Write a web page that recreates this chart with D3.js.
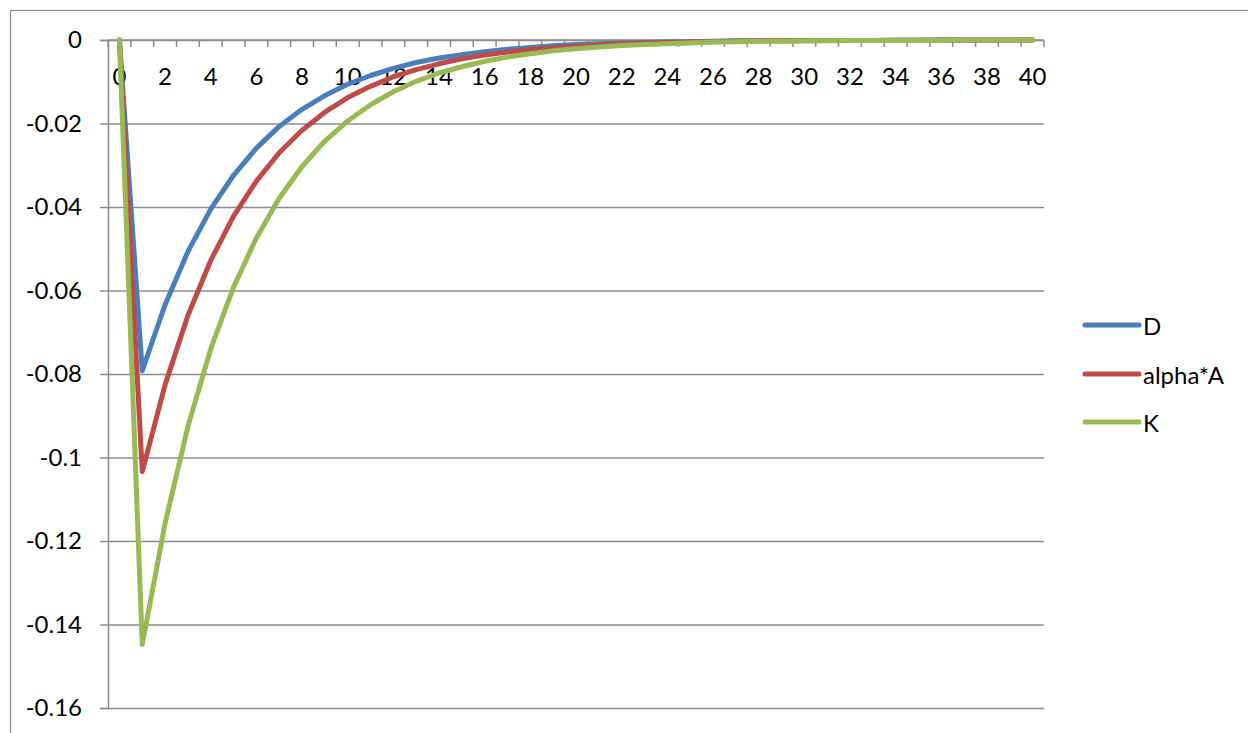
<!DOCTYPE html>
<html>
<head>
<meta charset="utf-8">
<script src="https://cdn.jsdelivr.net/npm/d3@7"></script>
<style>
  html, body { margin: 0; padding: 0; background: #fff; }
  svg { display: block; }
  text { font-family: Lato, "Open Sans", sans-serif; fill: #000; }
</style>
</head>
<body>
<svg id="chart" width="1248" height="733"></svg>
<script>
// ---- data ----
const categories = d3.range(0, 41); // 0..40
const seriesNames = ["D", "alpha*A", "K"];
const seriesColors = ["#4A7EBB", "#BE4B48", "#98B954"];
const valuesD = [0, -0.0792, -0.0634, -0.0507, -0.0405, -0.0324, -0.0259, -0.0207, -0.0166, -0.0133, -0.0106,
  -0.0085, -0.0068, -0.0054, -0.0043, -0.0035, -0.0028, -0.0022, -0.0018, -0.0014, -0.0011,
  -0.0009, -0.0007, -0.0006, -0.0005, -0.0004, -0.0003, -0.0002, -0.0002, -0.0002, -0.0001,
  -0.0001, -0.0001, -0.0001, 0, 0, 0, 0, 0, 0, 0];
const valuesA = [0, -0.1034, -0.0826, -0.0660, -0.0528, -0.0422, -0.0338, -0.0270, -0.0216, -0.0173, -0.0138,
  -0.0111, -0.0088, -0.0071, -0.0057, -0.0045, -0.0036, -0.0029, -0.0023, -0.0019, -0.0015,
  -0.0012, -0.0009, -0.0008, -0.0006, -0.0005, -0.0004, -0.0003, -0.0002, -0.0002, -0.0002,
  -0.0001, -0.0001, -0.0001, -0.0001, -0.0001, 0, 0, 0, 0, 0];
const valuesK = [0, -0.1448, -0.1158, -0.0926, -0.0740, -0.0592, -0.0474, -0.0379, -0.0303, -0.0242, -0.0194,
  -0.0155, -0.0124, -0.0099, -0.0079, -0.0064, -0.0051, -0.0041, -0.0033, -0.0026, -0.0021,
  -0.0017, -0.0013, -0.0011, -0.0009, -0.0007, -0.0005, -0.0004, -0.0003, -0.0003, -0.0002,
  -0.0002, -0.0001, -0.0001, -0.0001, -0.0001, -0.0001, 0, 0, 0, 0];
const yTicks = [0, -0.02, -0.04, -0.06, -0.08, -0.1, -0.12, -0.14, -0.16];
const xTickLabels = categories.filter(c => c % 2 === 0);

// ---- layout ----
const svg = d3.select("#chart");
const plotLeft = 108, plotRight = 1044, plotTop = 40, plotBottom = 708;
const gridColor = "#8C8C8C";
const fontSize = 24;

// outer chart frame
svg.append("rect").attr("x", 10.5).attr("y", 10.5).attr("width", 1260).attr("height", 760)
  .attr("fill", "none").attr("stroke", "#8C8C8C").attr("stroke-width", 1.2);

const x = d3.scaleBand().domain(categories).range([plotLeft, plotRight]).paddingInner(0).paddingOuter(0);
const y = d3.scaleLinear().domain([-0.16, 0]).range([plotBottom, plotTop]);

// horizontal gridlines + y ticks
const yAxis = d3.axisLeft(y).tickValues(yTicks).tickSize(8).tickPadding(18)
  .tickFormat(d => d === 0 ? "0" : String(+d.toFixed(2)));
const gy = svg.append("g").attr("transform", `translate(${plotLeft},0)`).call(yAxis);
gy.attr("font-size", fontSize).attr("font-family", "Lato, 'Open Sans', sans-serif");
gy.select(".domain").attr("stroke", gridColor).attr("stroke-width", 1.5);
gy.selectAll(".tick line").attr("stroke", gridColor).attr("stroke-width", 1.5);
gy.selectAll(".tick text").style("font-size", fontSize + "px").attr("fill", "#000");
gy.selectAll(".tick").append("line")
  .attr("x1", 0).attr("x2", plotRight - plotLeft).attr("stroke", gridColor).attr("stroke-width", 1.5);

// x axis at value 0 with ticks between categories
const gx = svg.append("g").attr("transform", `translate(0,${y(0)})`);
gx.append("line").attr("x1", plotLeft).attr("x2", plotRight).attr("stroke", gridColor).attr("stroke-width", 1.5);
const boundaries = categories.map(c => x(c)).concat([x(categories[categories.length - 1]) + x.bandwidth()]);
gx.selectAll("line.tk").data(boundaries).join("line").attr("class", "tk")
  .attr("x1", d => d).attr("x2", d => d).attr("y1", 0).attr("y2", 7)
  .attr("stroke", gridColor).attr("stroke-width", 1.5);
gx.selectAll("text").data(xTickLabels).join("text")
  .attr("x", d => x(d) + x.bandwidth() / 2).attr("y", 35)
  .attr("text-anchor", "middle").attr("dominant-baseline", "central")
  .style("font-size", fontSize + "px").text(d => d);

// series lines
const seriesData = [valuesD, valuesA, valuesK];
const line = d3.line()
  .x((d, i) => x(categories[i]) + x.bandwidth() / 2)
  .y(d => y(d));
seriesData.forEach((vals, k) => {
  svg.append("path").datum(vals).attr("d", line)
    .attr("fill", "none").attr("stroke", seriesColors[k]).attr("stroke-width", 5)
    .attr("stroke-linejoin", "round").attr("stroke-linecap", "round");
});

// legend
const legendY = [325, 374, 422];
const lg = svg.append("g");
seriesNames.forEach((name, k) => {
  lg.append("line").attr("x1", 1085).attr("x2", 1139).attr("y1", legendY[k]).attr("y2", legendY[k])
    .attr("stroke", seriesColors[k]).attr("stroke-width", 5).attr("stroke-linecap", "round");
  lg.append("text").attr("x", 1143).attr("y", legendY[k]).attr("dominant-baseline", "central")
    .style("font-size", fontSize + "px").text(name);
});
</script>
</body>
</html>
